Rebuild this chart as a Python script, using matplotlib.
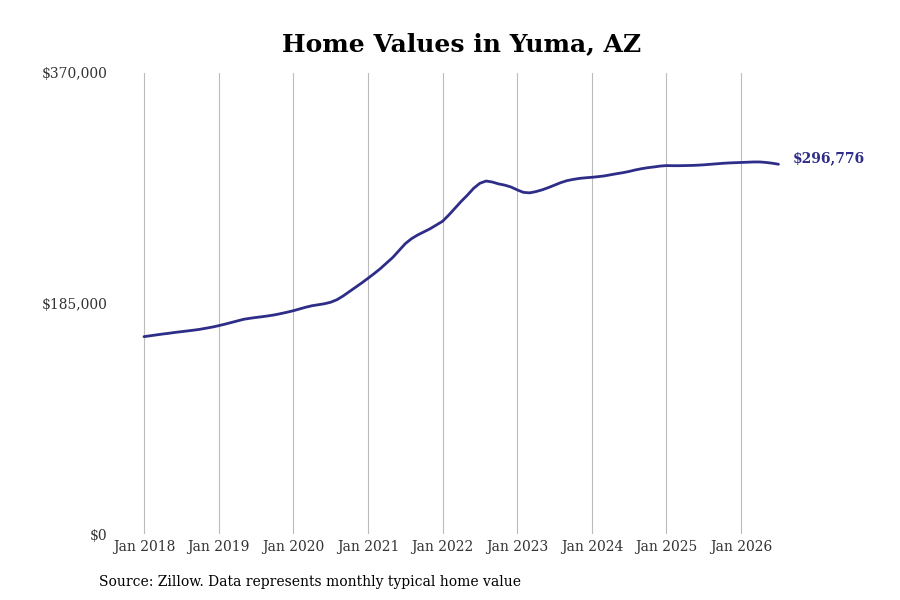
import matplotlib
matplotlib.use("Agg")
import matplotlib.pyplot as plt

# monthly typical home value, Jan 2018 .. Jul 2026
values_2018 = [158400, 159100, 159800, 160500, 161100, 161800, 162400, 163000, 163600, 164300, 165200, 166100]
values_2019 = [167200, 168400, 169700, 171000, 172300, 173100, 173800, 174400, 175100, 175900, 176900, 178000]
values_2020 = [179200, 180600, 182000, 183200, 184000, 184800, 186000, 188000, 191000, 194500, 198000, 201500]
values_2021 = [205200, 209000, 213000, 217500, 222000, 227500, 233000, 237000, 240000, 242500, 245000, 248000]
values_2022 = [251000, 256000, 261500, 267000, 272000, 277500, 281500, 283300, 282500, 281000, 280000, 278500]
values_2023 = [276200, 274200, 273800, 274800, 276200, 278000, 280000, 282000, 283600, 284600, 285400, 285900]
values_2024 = [286300, 286800, 287400, 288300, 289200, 290000, 291000, 292200, 293200, 294000, 294600, 295300]
values_2025 = [295700, 295600, 295600, 295700, 295800, 296000, 296300, 296700, 297100, 297500, 297800, 298000]
values_2026 = [298200, 298400, 298600, 298600, 298200, 297600, 296776]

values = (values_2018 + values_2019 + values_2020 + values_2021 + values_2022
          + values_2023 + values_2024 + values_2025 + values_2026)
months = list(range(len(values)))

tick_labels = ["Jan 2018", "Jan 2019", "Jan 2020", "Jan 2021", "Jan 2022",
               "Jan 2023", "Jan 2024", "Jan 2025", "Jan 2026"]
y_ticks = [0, 185000, 370000]
y_labels = ["$0", "$185,000", "$370,000"]

line_color = "#2e2d88"
plt.rcParams['font.family'] = ['DejaVu Serif']

fig = plt.figure(figsize=(9, 6), dpi=100)
ax = fig.add_axes([120 / 900, 66 / 600, 660 / 900, 461 / 600])

ax.plot(months, values, color=line_color, linewidth=2.0, solid_capstyle='round')

ax.set_xlim(-3.86, 102.25)
ax.set_ylim(0, 370000)
ax.set_xticks(range(0, 97, 12))
ax.set_xticklabels(tick_labels, fontsize=10, color="#333333")
ax.set_yticks(y_ticks)
ax.set_yticklabels(y_labels, fontsize=10, color="#333333")
ax.tick_params(axis='both', length=0)
ax.tick_params(axis='y', pad=9)
ax.tick_params(axis='x', pad=4)
ax.grid(axis='x', color="#bbbbbb", linewidth=0.8)
ax.grid(axis='y', visible=False)
for s in ax.spines.values():
    s.set_visible(False)

ax.annotate("${:,}".format(values[-1]), xy=(months[-1], values[-1]),
            xytext=(10, 4), textcoords='offset points', va='center', ha='left',
            fontsize=10, fontweight='bold', color=line_color)

fig.text(0.513, 0.927, "Home Values in Yuma, AZ", ha='center', va='center',
         fontsize=18, fontweight='bold', color='black')
fig.text(99 / 900, 1 - 582 / 600, "Source: Zillow. Data represents monthly typical home value",
         ha='left', va='center', fontsize=10, color='black')

fig.savefig("out.png", dpi=100)
